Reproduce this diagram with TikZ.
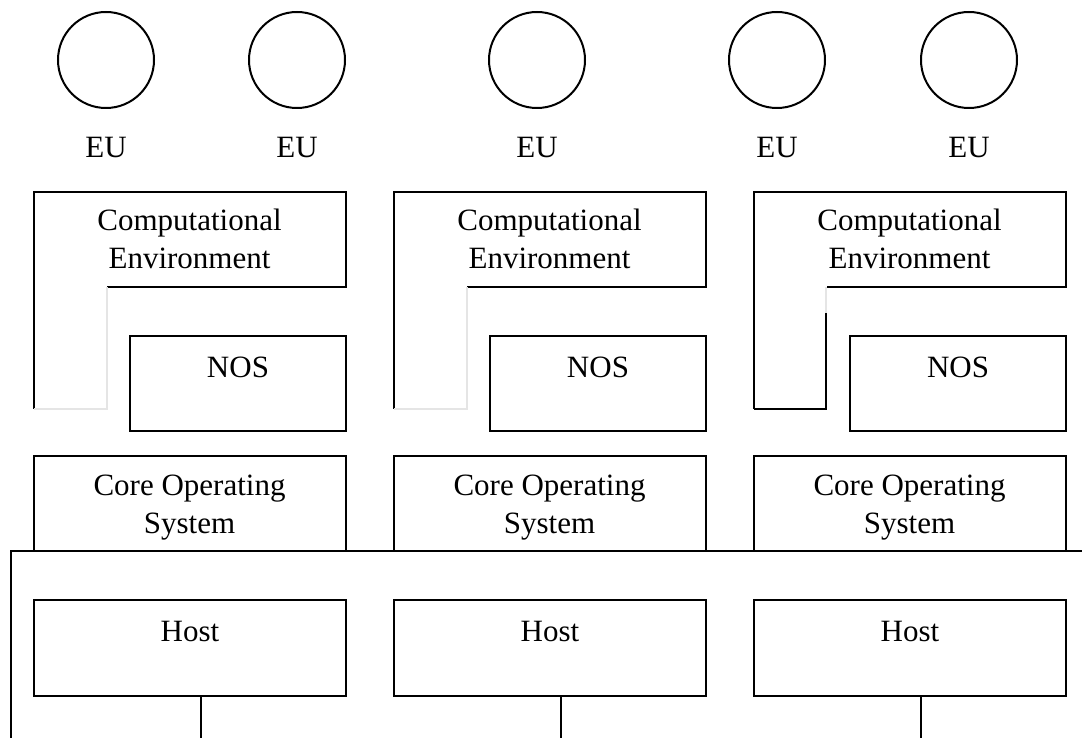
\documentclass[tikz,border=0pt]{standalone}
\usepackage{fontspec}
\setmainfont{Liberation Serif}
\begin{document}
\begin{tikzpicture}[x=1pt,y=-1pt,
  ln/.style={line width=2pt, line join=miter},
  faint/.style={line width=1.2pt, black!10},
  box/.style={draw, line width=2pt, rectangle, inner sep=0pt},
  lbl/.style={anchor=base, inner sep=0pt, font=\fontsize{31}{37.5}\selectfont},
  eu/.style={draw, circle, line width=2pt, minimum size=96pt, inner sep=0pt}]
\useasboundingbox (0,0) rectangle (1082,738);

% end users
\foreach \i/\x in {1/106,2/297,3/537,4/777,5/969}{
  \node[eu] (c\i) at (\x,60) {};
  \node[lbl] (eu\i) at (\x,157.5) {EU};
}

% host network frame
\coordinate (netA) at (11,738);
\coordinate (netB) at (11,551);
\coordinate (netC) at (1082,551);
\draw[ln] (netA) -- (netB) -- (netC);

% three host columns
\foreach \k/\o in {1/0,2/360,3/720}{
  % computational environment (L-shaped outline)
  \draw[ln] (\o+107,287) -- (\o+345.5,287) -- (\o+345.5,192) -- (\o+34,192) -- (\o+34,409);
  \node[lbl] (ce\k a) at (\o+189.5,231) {Computational};
  \node[lbl] (ce\k b) at (\o+189.5,268.5) {Environment};
  % network operating system
  \node[box, minimum width=216pt, minimum height=95pt] (nos\k) at (\o+238,383.5) {};
  \node[lbl] (nosl\k) at (\o+238,377) {NOS};
  % core operating system
  \node[box, minimum width=312pt, minimum height=95.5pt] (cos\k) at (\o+190,503.5) {};
  \node[lbl] (cosa\k) at (\o+189.5,495) {Core Operating};
  \node[lbl] (cosb\k) at (\o+189.5,533) {System};
  % host
  \node[box, minimum width=312pt, minimum height=96pt] (host\k) at (\o+190,648) {};
  \node[lbl] (hostl\k) at (\o+190,641) {Host};
  \coordinate (hb\k) at (\o+201,738);
  \draw[ln] (hb\k |- host\k.south) -- (hb\k);
}

% lower edges of the computational environments
\draw[faint] (34,409) -- (107,409) -- (107,287);
\draw[faint] (394,409) -- (467,409) -- (467,287);
\draw[ln] (754,409) -- (826,409) -- (826,313);
\draw[faint] (826,313) -- (826,287);
\end{tikzpicture}
\end{document}
